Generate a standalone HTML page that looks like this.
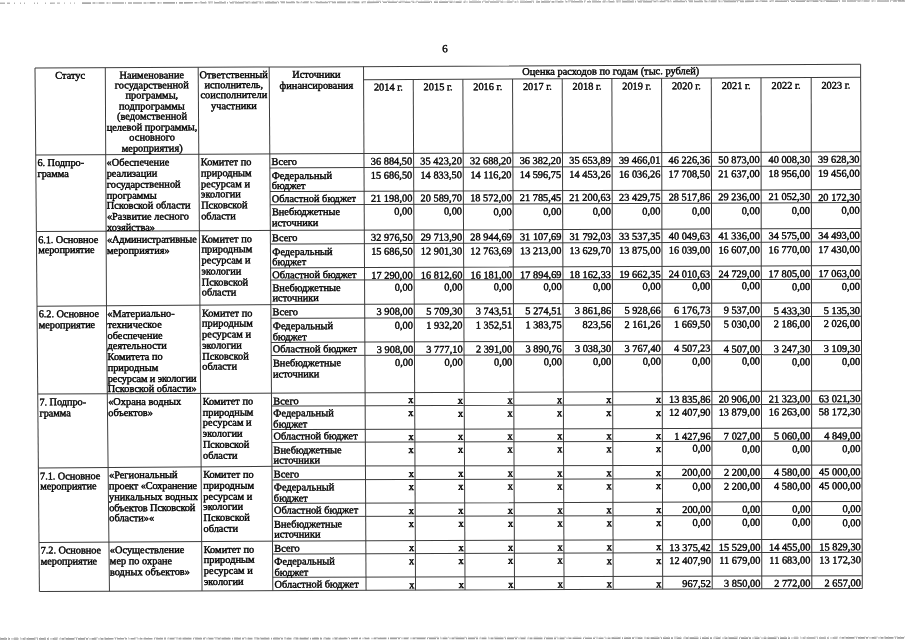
<!DOCTYPE html>
<html lang="ru"><head><meta charset="utf-8"><title>6</title>
<style>
html,body{margin:0;padding:0;background:#fff;}
body{position:relative;width:905px;height:640px;overflow:hidden;font-family:"Liberation Serif",serif;font-size:10.4px;line-height:10.75px;color:#000;}
#pg{position:absolute;left:0;top:0;width:905px;height:640px;transform-origin:0 0;transform:matrix(0.99812303,-0.00411722,0.00583174,1.00152964,0.34414,-0.05991);}
#pg svg{position:absolute;left:0;top:0;}
.t{position:absolute;white-space:nowrap;text-rendering:geometricPrecision;-webkit-text-stroke:0.4px #000;}
.h{line-height:10.45px;}
.n{letter-spacing:-0.14px;}
.s{letter-spacing:-0.09px;}
.noise{position:absolute;left:0;width:905px;height:0;border-top:1px dashed #bbb;}
</style></head><body>
<svg id="edge" width="905" height="640" viewBox="0 0 905 640" style="position:absolute;left:0;top:0">
<line x1="0" y1="3.3" x2="82" y2="3.1" stroke="#b5b5b5" stroke-width="1.4" stroke-dasharray="5 2 3 4 1 5 1 3 1 9 1 2 1 7 1 4"/>
<line x1="82" y1="3.1" x2="905" y2="0.9" stroke="#a8a8a8" stroke-width="1.6" stroke-dasharray="9 1.5 3 1 1 1 6 2 2 1 1 1.5 12 1 1 2 4 1"/>
<line x1="200" y1="1.9" x2="905" y2="0.1" stroke="#c8c8c8" stroke-width="1.2" stroke-dasharray="2 3 1 2 5 1 1 4 3 2"/>
<line x1="0" y1="638.9" x2="905" y2="637.9" stroke="#a0a0a0" stroke-width="1.7" stroke-dasharray="7 1 2 1.5 1 1 5 2 1 1 3 1 9 1.5 1 1"/>
<line x1="0" y1="637.9" x2="905" y2="636.9" stroke="#cfcfcf" stroke-width="1.1" stroke-dasharray="1 3 2 2 1 5 4 2"/>
</svg>
<div id="pg">
<svg width="905" height="640" viewBox="0 0 905 640">
<polyline points="34.32,68.20 35.68,590.80" fill="none" stroke="#3c3c3c" stroke-width="1"/>
<polyline points="104.74,68.16 104.51,330.43 105.87,590.84" fill="none" stroke="#3c3c3c" stroke-width="1"/>
<polyline points="197.79,68.12 198.61,590.88" fill="none" stroke="#3c3c3c" stroke-width="1"/>
<polyline points="268.95,68.09 269.54,590.91" fill="none" stroke="#3c3c3c" stroke-width="1"/>
<polyline points="363.46,68.04 362.94,590.96" fill="none" stroke="#3c3c3c" stroke-width="1"/>
<polyline points="413.19,81.06 412.52,590.98" fill="none" stroke="#3c3c3c" stroke-width="1"/>
<polyline points="462.93,81.03 462.11,591.01" fill="none" stroke="#3c3c3c" stroke-width="1"/>
<polyline points="512.69,81.01 511.70,591.03" fill="none" stroke="#3c3c3c" stroke-width="1"/>
<polyline points="562.45,80.99 561.31,591.05" fill="none" stroke="#3c3c3c" stroke-width="1"/>
<polyline points="612.21,80.97 610.52,591.08" fill="none" stroke="#3c3c3c" stroke-width="1"/>
<polyline points="662.00,80.94 660.14,591.10" fill="none" stroke="#3c3c3c" stroke-width="1"/>
<polyline points="711.79,80.92 709.77,591.13" fill="none" stroke="#3c3c3c" stroke-width="1"/>
<polyline points="761.59,80.90 759.42,591.15" fill="none" stroke="#3c3c3c" stroke-width="1"/>
<polyline points="811.90,80.88 809.56,591.17" fill="none" stroke="#3c3c3c" stroke-width="1"/>
<polyline points="861.48,67.80 860.12,591.20" fill="none" stroke="#3c3c3c" stroke-width="1"/>
<polyline points="34.32,68.20 299.49,68.07 861.48,67.80" fill="none" stroke="#3c3c3c" stroke-width="1"/>
<polyline points="363.45,81.08 861.44,80.85" fill="none" stroke="#3c3c3c" stroke-width="1"/>
<polyline points="34.55,154.87 299.57,154.78 861.25,155.21" fill="none" stroke="#3c3c3c" stroke-width="1"/>
<polyline points="269.07,168.82 299.58,168.81 861.21,169.25" fill="none" stroke="#3c3c3c" stroke-width="1"/>
<polyline points="269.09,192.46 299.60,192.45 861.15,192.91" fill="none" stroke="#3c3c3c" stroke-width="1"/>
<polyline points="269.11,205.67 299.61,205.67 861.12,205.84" fill="none" stroke="#3c3c3c" stroke-width="1"/>
<polyline points="34.75,231.44 299.64,231.29 861.05,231.70" fill="none" stroke="#3c3c3c" stroke-width="1"/>
<polyline points="269.15,244.81 299.65,244.81 861.02,245.02" fill="none" stroke="#3c3c3c" stroke-width="1"/>
<polyline points="269.18,268.73 299.67,268.72 860.96,268.66" fill="none" stroke="#3c3c3c" stroke-width="1"/>
<polyline points="269.19,280.83 299.68,280.83 860.92,282.48" fill="none" stroke="#3c3c3c" stroke-width="1"/>
<polyline points="34.94,305.94 299.71,305.33 860.86,305.91" fill="none" stroke="#3c3c3c" stroke-width="1"/>
<polyline points="269.24,319.03 299.72,319.03 860.83,319.42" fill="none" stroke="#3c3c3c" stroke-width="1"/>
<polyline points="269.26,343.02 299.74,343.02 860.76,343.64" fill="none" stroke="#3c3c3c" stroke-width="1"/>
<polyline points="269.28,356.22 299.75,356.22 860.73,357.50" fill="none" stroke="#3c3c3c" stroke-width="1"/>
<polyline points="35.17,393.65 299.79,393.69 860.63,393.75" fill="none" stroke="#3c3c3c" stroke-width="1"/>
<polyline points="269.33,406.57 299.80,406.57 860.60,407.05" fill="none" stroke="#3c3c3c" stroke-width="1"/>
<polyline points="269.36,430.03 299.82,430.04 860.54,431.04" fill="none" stroke="#3c3c3c" stroke-width="1"/>
<polyline points="269.37,442.91 299.83,442.92 860.50,444.03" fill="none" stroke="#3c3c3c" stroke-width="1"/>
<polyline points="35.36,467.41 299.86,466.67 860.44,467.81" fill="none" stroke="#3c3c3c" stroke-width="1"/>
<polyline points="269.42,480.34 299.87,480.35 860.41,481.10" fill="none" stroke="#3c3c3c" stroke-width="1"/>
<polyline points="269.44,503.78 299.89,503.79 860.35,504.37" fill="none" stroke="#3c3c3c" stroke-width="1"/>
<polyline points="269.46,516.95 299.90,516.96 860.31,518.25" fill="none" stroke="#3c3c3c" stroke-width="1"/>
<polyline points="35.55,541.99 299.93,541.39 860.25,541.91" fill="none" stroke="#3c3c3c" stroke-width="1"/>
<polyline points="269.50,554.44 299.94,554.45 860.22,554.98" fill="none" stroke="#3c3c3c" stroke-width="1"/>
<polyline points="269.53,577.66 299.96,577.68 860.16,578.43" fill="none" stroke="#3c3c3c" stroke-width="1"/>
<polyline points="35.68,590.80 299.97,590.93 860.12,591.20" fill="none" stroke="#3c3c3c" stroke-width="1"/>
</svg>
<div class="t h" style="left:34.34px;top:71.59px;width:70.39px;text-align:center;">Статус</div>
<div class="t h" style="left:104.76px;top:71.55px;width:93.01px;text-align:center;">Наименование<br>государственной<br>программы,<br>подпрограммы<br>(ведомственной<br>целевой программы,<br>основного<br>мероприятия)</div>
<div class="t h" style="left:197.83px;top:71.51px;width:71.10px;text-align:center;">Ответственный<br>исполнитель,<br>соисполнители<br>участники</div>
<div class="t h" style="left:269.01px;top:72.18px;width:94.40px;text-align:center;">Источники<br>финансирования</div>
<div class="t h" style="left:362.70px;top:70.33px;width:496.90px;text-align:center;">Оценка расходов по годам (тыс. рублей)</div>
<div class="t h" style="left:363.48px;top:84.78px;width:49.67px;text-align:center;">2014 г.</div>
<div class="t h" style="left:413.22px;top:84.76px;width:49.67px;text-align:center;">2015 г.</div>
<div class="t h" style="left:462.97px;top:84.74px;width:49.67px;text-align:center;">2016 г.</div>
<div class="t h" style="left:512.73px;top:84.71px;width:49.67px;text-align:center;">2017 г.</div>
<div class="t h" style="left:562.49px;top:84.69px;width:49.66px;text-align:center;">2018 г.</div>
<div class="t h" style="left:612.26px;top:84.67px;width:49.67px;text-align:center;">2019 г.</div>
<div class="t h" style="left:662.04px;top:84.65px;width:49.67px;text-align:center;">2020 г.</div>
<div class="t h" style="left:711.84px;top:84.62px;width:49.67px;text-align:center;">2021 г.</div>
<div class="t h" style="left:761.64px;top:84.60px;width:50.17px;text-align:center;">2022 г.</div>
<div class="t h" style="left:811.95px;top:84.58px;width:49.41px;text-align:center;">2023 г.</div>
<div class="t s" style="left:36.26px;top:159.07px;">6. Подпро-<br>грамма</div>
<div class="t " style="left:105.47px;top:159.25px;">«Обеспечение<br>реализации<br>государственной<br>программы<br>Псковской области<br>«Развитие лесного<br>хозяйства»</div>
<div class="t " style="left:199.94px;top:159.02px;">Комитет по<br>природным<br>ресурсам и<br>экологии<br>Псковской<br>области</div>
<div class="t " style="left:270.76px;top:158.70px;">Всего</div>
<div class="t " style="left:363.42px;top:158.60px;width:48.27px;text-align:right;">36&nbsp;884,50</div>
<div class="t " style="left:413.14px;top:158.64px;width:48.27px;text-align:right;">35&nbsp;423,20</div>
<div class="t " style="left:462.87px;top:158.68px;width:48.27px;text-align:right;">32&nbsp;688,20</div>
<div class="t " style="left:512.61px;top:158.71px;width:48.27px;text-align:right;">36&nbsp;382,20</div>
<div class="t " style="left:562.36px;top:158.75px;width:48.20px;text-align:right;">35&nbsp;653,89</div>
<div class="t " style="left:612.05px;top:158.79px;width:48.27px;text-align:right;">39&nbsp;466,01</div>
<div class="t " style="left:661.82px;top:158.83px;width:48.27px;text-align:right;">46&nbsp;226,36</div>
<div class="t " style="left:711.59px;top:158.87px;width:48.27px;text-align:right;">50&nbsp;873,00</div>
<div class="t " style="left:761.38px;top:158.90px;width:48.77px;text-align:right;">40&nbsp;008,30</div>
<div class="t " style="left:811.67px;top:158.94px;width:48.17px;text-align:right;">39&nbsp;628,30</div>
<div class="t " style="left:270.77px;top:172.72px;">Федеральный<br>бюджет</div>
<div class="t " style="left:363.40px;top:172.63px;width:48.27px;text-align:right;">15&nbsp;686,50</div>
<div class="t " style="left:413.12px;top:172.67px;width:48.27px;text-align:right;">14&nbsp;833,50</div>
<div class="t " style="left:462.84px;top:172.71px;width:48.27px;text-align:right;">14&nbsp;116,20</div>
<div class="t " style="left:512.58px;top:172.75px;width:48.27px;text-align:right;">14&nbsp;596,75</div>
<div class="t " style="left:562.32px;top:172.79px;width:48.19px;text-align:right;">14&nbsp;453,26</div>
<div class="t " style="left:612.00px;top:172.82px;width:48.27px;text-align:right;">16&nbsp;036,26</div>
<div class="t " style="left:661.76px;top:172.86px;width:48.27px;text-align:right;">17&nbsp;708,50</div>
<div class="t " style="left:711.53px;top:172.90px;width:48.27px;text-align:right;">21&nbsp;637,00</div>
<div class="t " style="left:761.31px;top:172.94px;width:48.77px;text-align:right;">18&nbsp;956,00</div>
<div class="t " style="left:811.60px;top:172.98px;width:48.20px;text-align:right;">19&nbsp;456,00</div>
<div class="t " style="left:270.80px;top:195.86px;">Областной бюджет</div>
<div class="t " style="left:363.37px;top:196.25px;width:48.27px;text-align:right;">21&nbsp;198,00</div>
<div class="t " style="left:413.08px;top:196.28px;width:48.27px;text-align:right;">20&nbsp;589,70</div>
<div class="t " style="left:462.80px;top:196.30px;width:48.27px;text-align:right;">18&nbsp;572,00</div>
<div class="t " style="left:512.53px;top:196.33px;width:48.27px;text-align:right;">21&nbsp;785,45</div>
<div class="t " style="left:562.26px;top:196.36px;width:48.18px;text-align:right;">21&nbsp;200,63</div>
<div class="t " style="left:611.91px;top:196.39px;width:48.27px;text-align:right;">23&nbsp;429,75</div>
<div class="t " style="left:661.67px;top:196.41px;width:48.27px;text-align:right;">28&nbsp;517,86</div>
<div class="t " style="left:711.43px;top:196.44px;width:48.27px;text-align:right;">29&nbsp;236,00</div>
<div class="t " style="left:761.20px;top:196.47px;width:48.77px;text-align:right;">21&nbsp;052,30</div>
<div class="t " style="left:811.49px;top:196.50px;width:48.25px;text-align:right;">20&nbsp;172,30</div>
<div class="t " style="left:270.81px;top:209.38px;">Внебюджетные<br>источники</div>
<div class="t " style="left:363.35px;top:209.46px;width:48.27px;text-align:right;">0,00</div>
<div class="t " style="left:413.06px;top:209.48px;width:48.27px;text-align:right;">0,00</div>
<div class="t " style="left:462.77px;top:209.51px;width:48.27px;text-align:right;">0,00</div>
<div class="t " style="left:512.50px;top:209.53px;width:48.27px;text-align:right;">0,00</div>
<div class="t " style="left:562.23px;top:209.56px;width:48.16px;text-align:right;">0,00</div>
<div class="t " style="left:611.87px;top:209.58px;width:48.27px;text-align:right;">0,00</div>
<div class="t " style="left:661.62px;top:209.61px;width:48.27px;text-align:right;">0,00</div>
<div class="t " style="left:711.38px;top:209.63px;width:48.27px;text-align:right;">0,00</div>
<div class="t " style="left:761.14px;top:209.66px;width:48.77px;text-align:right;">0,00</div>
<div class="t " style="left:811.42px;top:209.68px;width:48.29px;text-align:right;">0,00</div>
<div class="t s" style="left:36.46px;top:235.64px;">6.1. Основное<br>мероприятие</div>
<div class="t " style="left:105.40px;top:235.79px;"><span class="n">«Административные</span><br>мероприятия»</div>
<div class="t " style="left:200.05px;top:235.54px;">Комитет по<br>природным<br>ресурсам и<br>экологии<br>Псковской<br>области</div>
<div class="t " style="left:270.84px;top:235.20px;">Всего</div>
<div class="t " style="left:363.32px;top:235.09px;width:48.27px;text-align:right;">32&nbsp;976,50</div>
<div class="t " style="left:413.02px;top:235.12px;width:48.27px;text-align:right;">29&nbsp;713,90</div>
<div class="t " style="left:462.72px;top:235.15px;width:48.27px;text-align:right;">28&nbsp;944,69</div>
<div class="t " style="left:512.44px;top:235.17px;width:48.27px;text-align:right;">31&nbsp;107,69</div>
<div class="t " style="left:562.16px;top:235.20px;width:48.15px;text-align:right;">31&nbsp;792,03</div>
<div class="t " style="left:611.77px;top:235.23px;width:48.27px;text-align:right;">33&nbsp;537,35</div>
<div class="t " style="left:661.51px;top:235.25px;width:48.27px;text-align:right;">40&nbsp;049,63</div>
<div class="t " style="left:711.27px;top:235.28px;width:48.27px;text-align:right;">41&nbsp;336,00</div>
<div class="t " style="left:761.03px;top:235.31px;width:48.77px;text-align:right;">34&nbsp;575,00</div>
<div class="t " style="left:811.30px;top:235.34px;width:48.34px;text-align:right;">34&nbsp;493,00</div>
<div class="t " style="left:270.86px;top:248.71px;">Федеральный<br>бюджет</div>
<div class="t " style="left:363.30px;top:248.57px;width:48.27px;text-align:right;">15&nbsp;686,50</div>
<div class="t " style="left:413.00px;top:248.57px;width:48.27px;text-align:right;">12&nbsp;901,30</div>
<div class="t " style="left:462.70px;top:248.58px;width:48.27px;text-align:right;">12&nbsp;763,69</div>
<div class="t " style="left:512.41px;top:248.58px;width:48.27px;text-align:right;">13&nbsp;213,00</div>
<div class="t " style="left:562.13px;top:248.59px;width:48.14px;text-align:right;">13&nbsp;629,70</div>
<div class="t " style="left:611.72px;top:248.60px;width:48.27px;text-align:right;">13&nbsp;875,00</div>
<div class="t " style="left:661.46px;top:248.60px;width:48.27px;text-align:right;">16&nbsp;039,00</div>
<div class="t " style="left:711.21px;top:248.61px;width:48.27px;text-align:right;">16&nbsp;607,00</div>
<div class="t " style="left:760.97px;top:248.61px;width:48.77px;text-align:right;">16&nbsp;770,00</div>
<div class="t " style="left:811.23px;top:248.62px;width:48.37px;text-align:right;">17&nbsp;430,00</div>
<div class="t " style="left:270.88px;top:272.13px;">Областной бюджет</div>
<div class="t " style="left:363.27px;top:272.60px;width:48.27px;text-align:right;">17&nbsp;290,00</div>
<div class="t " style="left:412.96px;top:272.67px;width:48.27px;text-align:right;">16&nbsp;812,60</div>
<div class="t " style="left:462.65px;top:272.74px;width:48.27px;text-align:right;">16&nbsp;181,00</div>
<div class="t " style="left:512.36px;top:272.81px;width:48.27px;text-align:right;">17&nbsp;894,69</div>
<div class="t " style="left:562.07px;top:272.88px;width:48.12px;text-align:right;">18&nbsp;162,33</div>
<div class="t " style="left:611.64px;top:272.95px;width:48.27px;text-align:right;">19&nbsp;662,35</div>
<div class="t " style="left:661.37px;top:273.02px;width:48.27px;text-align:right;">24&nbsp;010,63</div>
<div class="t " style="left:711.11px;top:273.09px;width:48.27px;text-align:right;">24&nbsp;729,00</div>
<div class="t " style="left:760.86px;top:273.16px;width:48.77px;text-align:right;">17&nbsp;805,00</div>
<div class="t " style="left:811.11px;top:273.23px;width:48.43px;text-align:right;">17&nbsp;063,00</div>
<div class="t " style="left:270.90px;top:284.53px;">Внебюджетные<br>источники</div>
<div class="t " style="left:363.26px;top:284.75px;width:48.27px;text-align:right;">0,00</div>
<div class="t " style="left:412.94px;top:284.85px;width:48.27px;text-align:right;">0,00</div>
<div class="t " style="left:462.63px;top:284.95px;width:48.27px;text-align:right;">0,00</div>
<div class="t " style="left:512.33px;top:285.04px;width:48.27px;text-align:right;">0,00</div>
<div class="t " style="left:562.04px;top:285.14px;width:48.11px;text-align:right;">0,00</div>
<div class="t " style="left:611.59px;top:285.24px;width:48.27px;text-align:right;">0,00</div>
<div class="t " style="left:661.32px;top:285.34px;width:48.27px;text-align:right;">0,00</div>
<div class="t " style="left:711.05px;top:285.44px;width:48.27px;text-align:right;">0,00</div>
<div class="t " style="left:760.80px;top:285.53px;width:48.77px;text-align:right;">0,00</div>
<div class="t " style="left:811.05px;top:285.63px;width:48.46px;text-align:right;">0,00</div>
<div class="t s" style="left:36.65px;top:310.13px;">6.2. Основное<br>мероприятие</div>
<div class="t " style="left:105.34px;top:310.08px;">«Материально-<br>техническое<br>обеспечение<br>деятельности<br>Комитета по<br>природным<br><span class="n">ресурсам и экологии</span><br>Псковской области»</div>
<div class="t " style="left:200.17px;top:309.69px;">Комитет по<br>природным<br>ресурсам и<br>экологии<br>Псковской<br>области</div>
<div class="t " style="left:270.92px;top:309.23px;">Всего</div>
<div class="t " style="left:363.22px;top:309.16px;width:48.27px;text-align:right;">3&nbsp;908,00</div>
<div class="t " style="left:412.90px;top:309.20px;width:48.27px;text-align:right;">5&nbsp;709,30</div>
<div class="t " style="left:462.58px;top:309.24px;width:48.27px;text-align:right;">3&nbsp;743,51</div>
<div class="t " style="left:512.27px;top:309.28px;width:48.27px;text-align:right;">5&nbsp;274,51</div>
<div class="t " style="left:561.98px;top:309.33px;width:48.09px;text-align:right;">3&nbsp;861,86</div>
<div class="t " style="left:611.50px;top:309.37px;width:48.27px;text-align:right;">5&nbsp;928,66</div>
<div class="t " style="left:661.22px;top:309.41px;width:48.27px;text-align:right;">6&nbsp;176,73</div>
<div class="t " style="left:710.95px;top:309.45px;width:48.27px;text-align:right;">9&nbsp;537,00</div>
<div class="t " style="left:760.69px;top:309.50px;width:48.77px;text-align:right;">5&nbsp;433,30</div>
<div class="t " style="left:810.94px;top:309.54px;width:48.51px;text-align:right;">5&nbsp;135,30</div>
<div class="t " style="left:270.94px;top:322.93px;">Федеральный<br>бюджет</div>
<div class="t " style="left:363.21px;top:322.86px;width:48.27px;text-align:right;">0,00</div>
<div class="t " style="left:412.88px;top:322.90px;width:48.27px;text-align:right;">1&nbsp;932,20</div>
<div class="t " style="left:462.56px;top:322.95px;width:48.27px;text-align:right;">1&nbsp;352,51</div>
<div class="t " style="left:512.24px;top:322.99px;width:48.27px;text-align:right;">1&nbsp;383,75</div>
<div class="t " style="left:561.94px;top:323.03px;width:48.08px;text-align:right;">823,56</div>
<div class="t " style="left:611.45px;top:323.08px;width:48.27px;text-align:right;">2&nbsp;161,26</div>
<div class="t " style="left:661.17px;top:323.12px;width:48.27px;text-align:right;">1&nbsp;669,50</div>
<div class="t " style="left:710.89px;top:323.16px;width:48.27px;text-align:right;">5&nbsp;030,00</div>
<div class="t " style="left:760.63px;top:323.21px;width:48.77px;text-align:right;">2&nbsp;186,00</div>
<div class="t " style="left:810.87px;top:323.25px;width:48.54px;text-align:right;">2&nbsp;026,00</div>
<div class="t " style="left:270.96px;top:346.42px;">Областной бюджет</div>
<div class="t " style="left:363.18px;top:346.92px;width:48.27px;text-align:right;">3&nbsp;908,00</div>
<div class="t " style="left:412.84px;top:347.01px;width:48.27px;text-align:right;">3&nbsp;777,10</div>
<div class="t " style="left:462.51px;top:347.09px;width:48.27px;text-align:right;">2&nbsp;391,00</div>
<div class="t " style="left:512.19px;top:347.17px;width:48.27px;text-align:right;">3&nbsp;890,76</div>
<div class="t " style="left:561.88px;top:347.26px;width:48.06px;text-align:right;">3&nbsp;038,30</div>
<div class="t " style="left:611.37px;top:347.34px;width:48.27px;text-align:right;">3&nbsp;767,40</div>
<div class="t " style="left:661.07px;top:347.42px;width:48.27px;text-align:right;">4&nbsp;507,23</div>
<div class="t " style="left:710.79px;top:347.51px;width:48.27px;text-align:right;">4&nbsp;507,00</div>
<div class="t " style="left:760.52px;top:347.59px;width:48.77px;text-align:right;">3&nbsp;247,30</div>
<div class="t " style="left:810.75px;top:347.67px;width:48.60px;text-align:right;">3&nbsp;109,30</div>
<div class="t " style="left:270.98px;top:359.91px;">Внебюджетные<br>источники</div>
<div class="t " style="left:363.16px;top:360.07px;width:48.27px;text-align:right;">0,00</div>
<div class="t " style="left:412.82px;top:360.13px;width:48.27px;text-align:right;">0,00</div>
<div class="t " style="left:462.48px;top:360.19px;width:48.27px;text-align:right;">0,00</div>
<div class="t " style="left:512.16px;top:360.24px;width:48.27px;text-align:right;">0,00</div>
<div class="t " style="left:561.85px;top:360.30px;width:48.05px;text-align:right;">0,00</div>
<div class="t " style="left:611.32px;top:360.36px;width:48.27px;text-align:right;">0,00</div>
<div class="t " style="left:661.02px;top:360.42px;width:48.27px;text-align:right;">0,00</div>
<div class="t " style="left:710.73px;top:360.48px;width:48.27px;text-align:right;">0,00</div>
<div class="t " style="left:760.46px;top:360.54px;width:48.77px;text-align:right;">0,00</div>
<div class="t " style="left:810.69px;top:360.59px;width:48.63px;text-align:right;">0,00</div>
<div class="t s" style="left:36.87px;top:397.85px;">7. Подпро-<br>грамма</div>
<div class="t " style="left:105.64px;top:398.06px;">«Охрана водных<br>объектов»</div>
<div class="t " style="left:200.31px;top:397.87px;">Комитет по<br>природным<br>ресурсам и<br>экологии<br>Псковской<br>области</div>
<div class="t " style="left:271.02px;top:397.58px;">Всего</div>
<div class="t " style="left:363.11px;top:397.48px;width:48.47px;text-align:right;">x</div>
<div class="t " style="left:412.76px;top:397.50px;width:48.47px;text-align:right;">x</div>
<div class="t " style="left:462.41px;top:397.52px;width:48.47px;text-align:right;">x</div>
<div class="t " style="left:512.08px;top:397.55px;width:48.47px;text-align:right;">x</div>
<div class="t " style="left:561.75px;top:397.57px;width:48.22px;text-align:right;">x</div>
<div class="t " style="left:611.18px;top:397.60px;width:48.47px;text-align:right;">x</div>
<div class="t " style="left:660.88px;top:397.62px;width:48.27px;text-align:right;">13&nbsp;835,86</div>
<div class="t " style="left:710.58px;top:397.64px;width:48.27px;text-align:right;">20&nbsp;906,00</div>
<div class="t " style="left:760.29px;top:397.67px;width:48.77px;text-align:right;">21&nbsp;323,00</div>
<div class="t " style="left:810.51px;top:397.69px;width:48.72px;text-align:right;">63&nbsp;021,30</div>
<div class="t " style="left:271.04px;top:410.46px;">Федеральный<br>бюджет</div>
<div class="t " style="left:363.09px;top:410.43px;width:48.47px;text-align:right;">x</div>
<div class="t " style="left:412.74px;top:410.50px;width:48.47px;text-align:right;">x</div>
<div class="t " style="left:462.39px;top:410.56px;width:48.47px;text-align:right;">x</div>
<div class="t " style="left:512.05px;top:410.63px;width:48.47px;text-align:right;">x</div>
<div class="t " style="left:561.72px;top:410.69px;width:48.21px;text-align:right;">x</div>
<div class="t " style="left:611.14px;top:410.76px;width:48.47px;text-align:right;">x</div>
<div class="t " style="left:660.82px;top:410.82px;width:48.27px;text-align:right;">12&nbsp;407,90</div>
<div class="t " style="left:710.52px;top:410.89px;width:48.27px;text-align:right;">13&nbsp;879,00</div>
<div class="t " style="left:760.23px;top:410.95px;width:48.77px;text-align:right;">16&nbsp;263,00</div>
<div class="t " style="left:810.44px;top:411.02px;width:48.75px;text-align:right;">58&nbsp;172,30</div>
<div class="t " style="left:271.06px;top:433.43px;">Областной бюджет</div>
<div class="t " style="left:363.06px;top:433.95px;width:48.47px;text-align:right;">x</div>
<div class="t " style="left:412.70px;top:434.05px;width:48.47px;text-align:right;">x</div>
<div class="t " style="left:462.34px;top:434.14px;width:48.47px;text-align:right;">x</div>
<div class="t " style="left:512.00px;top:434.23px;width:48.47px;text-align:right;">x</div>
<div class="t " style="left:561.66px;top:434.33px;width:48.19px;text-align:right;">x</div>
<div class="t " style="left:611.05px;top:434.42px;width:48.47px;text-align:right;">x</div>
<div class="t " style="left:660.73px;top:434.51px;width:48.27px;text-align:right;">1&nbsp;427,96</div>
<div class="t " style="left:710.42px;top:434.61px;width:48.27px;text-align:right;">7&nbsp;027,00</div>
<div class="t " style="left:760.12px;top:434.70px;width:48.77px;text-align:right;">5&nbsp;060,00</div>
<div class="t " style="left:810.33px;top:434.80px;width:48.80px;text-align:right;">4&nbsp;849,00</div>
<div class="t " style="left:271.08px;top:446.61px;">Внебюджетные<br>источники</div>
<div class="t " style="left:363.05px;top:446.84px;width:48.47px;text-align:right;">x</div>
<div class="t " style="left:412.68px;top:446.94px;width:48.47px;text-align:right;">x</div>
<div class="t " style="left:462.32px;top:447.04px;width:48.47px;text-align:right;">x</div>
<div class="t " style="left:511.97px;top:447.14px;width:48.47px;text-align:right;">x</div>
<div class="t " style="left:561.62px;top:447.24px;width:48.18px;text-align:right;">x</div>
<div class="t " style="left:611.01px;top:447.34px;width:48.47px;text-align:right;">x</div>
<div class="t " style="left:660.68px;top:447.44px;width:48.27px;text-align:right;">0,00</div>
<div class="t " style="left:710.37px;top:447.54px;width:48.27px;text-align:right;">0,00</div>
<div class="t " style="left:760.06px;top:447.64px;width:48.77px;text-align:right;">0,00</div>
<div class="t " style="left:810.26px;top:447.74px;width:48.83px;text-align:right;">0,00</div>
<div class="t s" style="left:37.06px;top:471.58px;">7.1. Основное<br>мероприятие</div>
<div class="t " style="left:106.03px;top:471.47px;">«Региональный<br><span class="n">проект «Сохранение</span><br>уникальных водных<br><span class="n">объектов Псковской</span><br>области»«</div>
<div class="t " style="left:200.42px;top:471.05px;">Комитет по<br>природным<br>ресурсам и<br>экологии<br>Псковской<br>области</div>
<div class="t " style="left:271.10px;top:470.56px;">Всего</div>
<div class="t " style="left:363.01px;top:470.57px;width:48.47px;text-align:right;">x</div>
<div class="t " style="left:412.64px;top:470.65px;width:48.47px;text-align:right;">x</div>
<div class="t " style="left:462.27px;top:470.74px;width:48.47px;text-align:right;">x</div>
<div class="t " style="left:511.91px;top:470.82px;width:48.47px;text-align:right;">x</div>
<div class="t " style="left:561.56px;top:470.90px;width:48.17px;text-align:right;">x</div>
<div class="t " style="left:610.92px;top:470.99px;width:48.47px;text-align:right;">x</div>
<div class="t " style="left:660.59px;top:471.07px;width:48.27px;text-align:right;">200,00</div>
<div class="t " style="left:710.27px;top:471.16px;width:48.27px;text-align:right;">2&nbsp;200,00</div>
<div class="t " style="left:759.95px;top:471.24px;width:48.77px;text-align:right;">4&nbsp;580,00</div>
<div class="t " style="left:810.15px;top:471.32px;width:48.88px;text-align:right;">45&nbsp;000,00</div>
<div class="t " style="left:271.12px;top:484.23px;">Федеральный<br>бюджет</div>
<div class="t " style="left:363.00px;top:484.20px;width:48.47px;text-align:right;">x</div>
<div class="t " style="left:412.62px;top:484.26px;width:48.47px;text-align:right;">x</div>
<div class="t " style="left:462.25px;top:484.31px;width:48.47px;text-align:right;">x</div>
<div class="t " style="left:511.88px;top:484.37px;width:48.47px;text-align:right;">x</div>
<div class="t " style="left:561.53px;top:484.43px;width:48.15px;text-align:right;">x</div>
<div class="t " style="left:610.87px;top:484.49px;width:48.47px;text-align:right;">x</div>
<div class="t " style="left:660.53px;top:484.55px;width:48.27px;text-align:right;">0,00</div>
<div class="t " style="left:710.21px;top:484.60px;width:48.27px;text-align:right;">2&nbsp;200,00</div>
<div class="t " style="left:759.89px;top:484.66px;width:48.77px;text-align:right;">4&nbsp;580,00</div>
<div class="t " style="left:810.08px;top:484.72px;width:48.92px;text-align:right;">45&nbsp;000,00</div>
<div class="t " style="left:271.14px;top:507.17px;">Областной бюджет</div>
<div class="t " style="left:362.97px;top:507.69px;width:48.47px;text-align:right;">x</div>
<div class="t " style="left:412.58px;top:507.77px;width:48.47px;text-align:right;">x</div>
<div class="t " style="left:462.20px;top:507.85px;width:48.47px;text-align:right;">x</div>
<div class="t " style="left:511.83px;top:507.93px;width:48.47px;text-align:right;">x</div>
<div class="t " style="left:561.47px;top:508.02px;width:48.14px;text-align:right;">x</div>
<div class="t " style="left:610.78px;top:508.10px;width:48.47px;text-align:right;">x</div>
<div class="t " style="left:660.44px;top:508.18px;width:48.27px;text-align:right;">200,00</div>
<div class="t " style="left:710.11px;top:508.26px;width:48.27px;text-align:right;">0,00</div>
<div class="t " style="left:759.78px;top:508.35px;width:48.77px;text-align:right;">0,00</div>
<div class="t " style="left:809.97px;top:508.43px;width:48.97px;text-align:right;">0,00</div>
<div class="t " style="left:271.16px;top:520.64px;">Внебюджетные<br>источники</div>
<div class="t " style="left:362.95px;top:520.85px;width:48.47px;text-align:right;">x</div>
<div class="t " style="left:412.56px;top:520.93px;width:48.47px;text-align:right;">x</div>
<div class="t " style="left:462.17px;top:521.01px;width:48.47px;text-align:right;">x</div>
<div class="t " style="left:511.80px;top:521.08px;width:48.47px;text-align:right;">x</div>
<div class="t " style="left:561.44px;top:521.16px;width:48.13px;text-align:right;">x</div>
<div class="t " style="left:610.74px;top:521.24px;width:48.47px;text-align:right;">x</div>
<div class="t " style="left:660.39px;top:521.32px;width:48.27px;text-align:right;">0,00</div>
<div class="t " style="left:710.05px;top:521.40px;width:48.27px;text-align:right;">0,00</div>
<div class="t " style="left:759.72px;top:521.48px;width:48.77px;text-align:right;">0,00</div>
<div class="t " style="left:809.90px;top:521.56px;width:49.00px;text-align:right;">0,00</div>
<div class="t s" style="left:37.26px;top:546.16px;">7.2. Основное<br>мероприятие</div>
<div class="t " style="left:106.42px;top:546.10px;">«Осуществление<br>мер по охране<br>водных объектов»</div>
<div class="t " style="left:200.54px;top:545.72px;">Комитет по<br>природным<br>ресурсам и<br>экологии</div>
<div class="t " style="left:271.19px;top:545.27px;">Всего</div>
<div class="t " style="left:362.92px;top:545.22px;width:48.47px;text-align:right;">x</div>
<div class="t " style="left:412.52px;top:545.27px;width:48.47px;text-align:right;">x</div>
<div class="t " style="left:462.13px;top:545.31px;width:48.47px;text-align:right;">x</div>
<div class="t " style="left:511.75px;top:545.36px;width:48.47px;text-align:right;">x</div>
<div class="t " style="left:561.37px;top:545.40px;width:48.11px;text-align:right;">x</div>
<div class="t " style="left:610.65px;top:545.45px;width:48.47px;text-align:right;">x</div>
<div class="t " style="left:660.29px;top:545.50px;width:48.27px;text-align:right;">13&nbsp;375,42</div>
<div class="t " style="left:709.95px;top:545.54px;width:48.27px;text-align:right;">15&nbsp;529,00</div>
<div class="t " style="left:759.61px;top:545.59px;width:48.77px;text-align:right;">14&nbsp;455,00</div>
<div class="t " style="left:809.78px;top:545.64px;width:49.06px;text-align:right;">15&nbsp;829,30</div>
<div class="t " style="left:271.20px;top:558.33px;">Федеральный<br>бюджет</div>
<div class="t " style="left:362.90px;top:558.30px;width:48.47px;text-align:right;">x</div>
<div class="t " style="left:412.50px;top:558.35px;width:48.47px;text-align:right;">x</div>
<div class="t " style="left:462.10px;top:558.41px;width:48.47px;text-align:right;">x</div>
<div class="t " style="left:511.72px;top:558.47px;width:48.47px;text-align:right;">x</div>
<div class="t " style="left:561.34px;top:558.52px;width:48.10px;text-align:right;">x</div>
<div class="t " style="left:610.60px;top:558.58px;width:48.47px;text-align:right;">x</div>
<div class="t " style="left:660.24px;top:558.63px;width:48.27px;text-align:right;">12&nbsp;407,90</div>
<div class="t " style="left:709.89px;top:558.69px;width:48.27px;text-align:right;">11&nbsp;679,00</div>
<div class="t " style="left:759.55px;top:558.75px;width:48.77px;text-align:right;">11&nbsp;683,00</div>
<div class="t " style="left:809.72px;top:558.80px;width:49.09px;text-align:right;">13&nbsp;172,30</div>
<div class="t " style="left:271.23px;top:581.05px;">Областной бюджет</div>
<div class="t " style="left:362.87px;top:581.50px;width:48.47px;text-align:right;">x</div>
<div class="t " style="left:412.46px;top:581.55px;width:48.47px;text-align:right;">x</div>
<div class="t " style="left:462.06px;top:581.59px;width:48.47px;text-align:right;">x</div>
<div class="t " style="left:511.67px;top:581.64px;width:48.47px;text-align:right;">x</div>
<div class="t " style="left:561.28px;top:581.68px;width:48.08px;text-align:right;">x</div>
<div class="t " style="left:610.52px;top:581.73px;width:48.47px;text-align:right;">x</div>
<div class="t " style="left:660.15px;top:581.77px;width:48.27px;text-align:right;">967,52</div>
<div class="t " style="left:709.79px;top:581.82px;width:48.27px;text-align:right;">3&nbsp;850,00</div>
<div class="t " style="left:759.45px;top:581.86px;width:48.77px;text-align:right;">2&nbsp;772,00</div>
<div class="t " style="left:809.61px;top:581.91px;width:49.14px;text-align:right;">2&nbsp;657,00</div>
<div class="t" style="left:438.17px;top:45.73px;width:14px;text-align:center;font-size:11px">6</div>
</div>
</body></html>
